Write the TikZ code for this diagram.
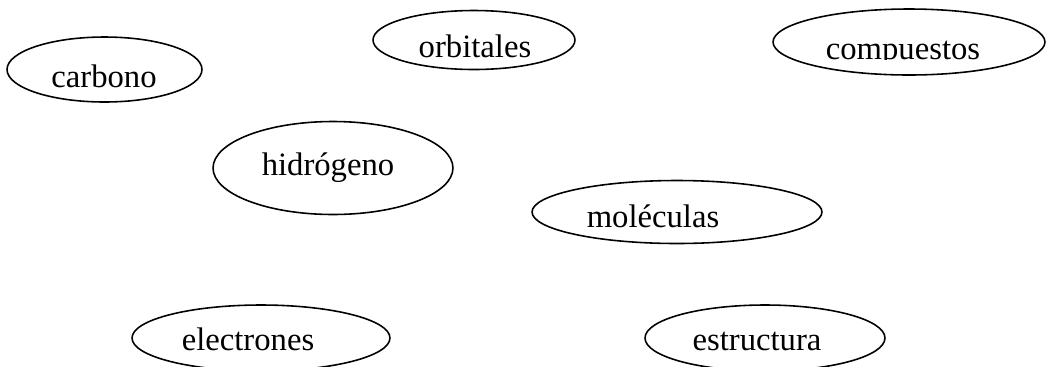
\documentclass[tikz,border=0pt]{standalone}
\usepackage{fontspec}
\setmainfont{Liberation Serif}
\usetikzlibrary{shapes.geometric}

\begin{document}
\begin{tikzpicture}[x=0.02cm,y=-0.02cm]
		\tikzstyle{bubble}=[draw,ellipse,line width=0.9pt,inner sep=0pt]
		\tikzstyle{word}=[anchor=base,inner sep=0pt,font=\fontsize{18.6}{22}\selectfont]

		%frame
		\useasboundingbox (0,0) rectangle (1052,366);
		\clip (0,0) rectangle (1052,366);

		%top row
		\node[bubble,minimum width=3.9cm,minimum height=1.3cm] (carbono) at (104.5,69.5) {};
		\node[word] (carbonoT) at (104,87) {carbono};
		\node[bubble,minimum width=4.04cm,minimum height=1.18cm] (orbitales) at (474,40) {};
		\node[word] (orbitalesT) at (475,57) {orbitales};
		\node[bubble,minimum width=5.44cm,minimum height=1.32cm] (compuestos) at (909,42) {};
		\begin{scope}
			\clip (780,0) rectangle (1040,59);
			\node[word] (compuestosT) at (903,59) {compuestos};
		\end{scope}

		%middle
		\node[bubble,minimum width=4.8cm,minimum height=1.86cm] (hidrogeno) at (333,168) {};
		\node[word] (hidrogenoT) at (328,175) {hidrógeno};
		\node[bubble,minimum width=5.8cm,minimum height=1.26cm] (moleculas) at (677,212) {};
		\node[word] (moleculasT) at (653,227) {moléculas};

		%bottom row
		\node[bubble,minimum width=5.16cm,minimum height=1.32cm] (electrones) at (261,338) {};
		\node[word] (electronesT) at (248,350) {electrones};
		\node[bubble,minimum width=4.8cm,minimum height=1.32cm] (estructura) at (765,338) {};
		\node[word] (estructuraT) at (757,350) {estructura};
	\end{tikzpicture}
\end{document}
